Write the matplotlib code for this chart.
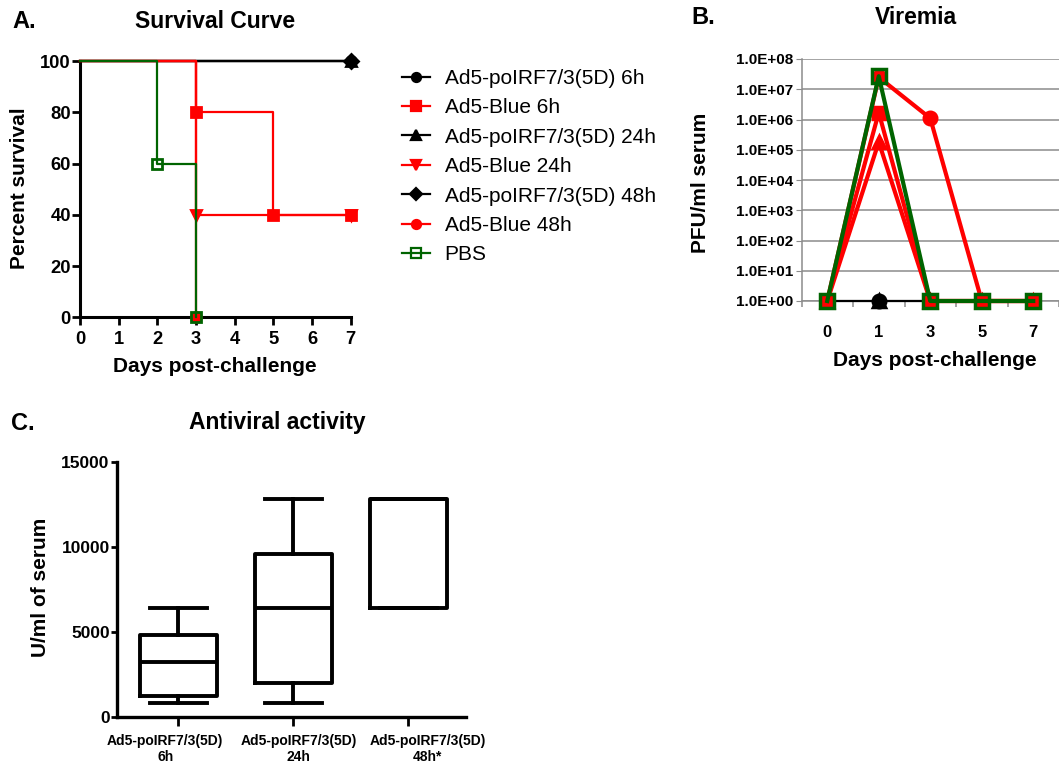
"""Three-panel figure: survival curve, viremia, antiviral activity box plot."""
import matplotlib
matplotlib.use("Agg")
import matplotlib.pyplot as plt
import matplotlib.transforms as mtransforms
from matplotlib.lines import Line2D

plt.rcParams["font.family"] = ["Liberation Sans", "DejaVu Sans"]
plt.rcParams["font.weight"] = "bold"

# ---- data -----------------------------------------------------------------
series = ["Ad5-poIRF7/3(5D) 6h", "Ad5-Blue 6h", "Ad5-poIRF7/3(5D) 24h",
          "Ad5-Blue 24h", "Ad5-poIRF7/3(5D) 48h", "Ad5-Blue 48h", "PBS"]

# survival steps (day of event, percent surviving after it)
surv_days = [[0, 7], [0, 3, 5, 7], [0, 7], [0, 3, 7], [0, 7], [0, 3], [0, 2, 3]]
surv_pct = [[100, 100], [100, 80, 40, 40], [100, 100], [100, 40, 40],
            [100, 100], [100, 0], [100, 60, 0]]

vir_days = ["0", "1", "3", "5", "7"]
nan = float("nan")
viremia = [
    [1, 1, 1, nan, nan],
    [1, 1.7e6, 1, 1, 1],
    [1, 1, 1, nan, nan],
    [1, 1.8e5, 1, 1, 1],
    [1, 1, 1, nan, nan],
    [1, 2.5e7, 1.1e6, 1, 1],
    [1, 2.7e7, 1, 1, 1],
]
vir_ticks = [1, 1e1, 1e2, 1e3, 1e4, 1e5, 1e6, 1e7, 1e8]

groups = ["Ad5-poIRF7/3(5D)\n6h", "Ad5-poIRF7/3(5D)\n24h", "Ad5-poIRF7/3(5D)\n48h*"]
whis_lo = [800, 800, 6400]
q1 = [1200, 2000, 6400]
median = [3200, 6400, 12800]
q3 = [4800, 9600, 12800]
whis_hi = [6400, 12800, 12800]

# ---- styles ---------------------------------------------------------------
RED, GREEN, BLACK = "#ff0000", "#006400", "#000000"
colors = [BLACK, RED, BLACK, RED, BLACK, RED, GREEN]
markers_a = ["o", "s", "^", "v", "D", "o", "s"]
markers_b = ["o", "s", "^", "^", "D", "o", "s"]
ms_b = [9, 9, 8, 9, 5, 9, 10]
zord = [2.3, 3, 2.2, 3, 2.1, 3, 4]

W, H = 1059, 769
fig = plt.figure(figsize=(W / 100, H / 100), dpi=100)


def rect(l, t, r, b):
    return [l / W, 1 - b / H, (r - l) / W, (b - t) / H]


def ftext(x, y, s, **kw):
    kw.setdefault("ha", "center")
    kw.setdefault("va", "center")
    fig.text(x / W, 1 - y / H, s, fontweight="bold", **kw)


# ---- A. survival -----------------------------------------------------------
axA = fig.add_axes(rect(80, 61, 350.7, 317.3))
handles = []
for i, name in enumerate(series):
    fc = "none" if colors[i] == GREEN else colors[i]
    ms = 7.5 if colors[i] == GREEN else 7
    axA.plot(surv_days[i], surv_pct[i], drawstyle="steps-post", color=colors[i],
             lw=1.6, zorder=zord[i], clip_on=False)
    axA.plot(surv_days[i][1:], surv_pct[i][1:], ls="none", marker=markers_a[i],
             ms=ms, mfc=fc, mec=colors[i], mew=2, zorder=zord[i] + 0.5, clip_on=False)
    handles.append(Line2D([], [], color=colors[i], lw=1.6, marker=markers_a[i],
                          ms=6.5, mfc=fc, mec=colors[i], mew=1.6))
axA.set_xlim(0, 7)
axA.set_ylim(0, 100)
axA.set_xticks(range(8))
axA.set_yticks(range(0, 101, 20))
for s in ["top", "right"]:
    axA.spines[s].set_visible(False)
for s in ["left", "bottom"]:
    axA.spines[s].set_linewidth(2.2)
axA.tick_params(width=2, length=5.5, labelsize=13.2, pad=4.5)
axA.tick_params(axis="y", pad=1)

ftext(215, 21, "Survival Curve", fontsize=16.5)
ftext(12, 21, "A.", fontsize=17, ha="left")
ftext(215, 367, "Days post-challenge", fontsize=15)
ftext(20, 188, "Percent survival", fontsize=15, rotation=90)

fig.legend(handles, series, loc="center left",
           bbox_to_anchor=(402 / W, 1 - 166.7 / H), frameon=False,
           prop={"family": ["Liberation Sans"], "weight": "normal", "size": 15},
           borderpad=0, borderaxespad=0, labelspacing=0.5,
           handlelength=1.35, handletextpad=0.7)

# ---- B. viremia ------------------------------------------------------------
axB = fig.add_axes(rect(801.5, 59, W, 301))
xpos = list(range(len(vir_days)))
for i, name in enumerate(series):
    lw = 1.5 if colors[i] == BLACK else 3
    fc = "none" if colors[i] == GREEN else colors[i]
    axB.plot(xpos, viremia[i], color=colors[i], lw=lw, marker=markers_b[i],
             ms=ms_b[i], mfc=fc, mec=colors[i], mew=2.5, zorder=zord[i] + 2,
             clip_on=False)
axB.set_yscale("log")
axB.set_ylim(1, 1e8)
axB.set_xlim(-0.5, -0.5 + (W - 801.5) / 52.9)
axB.set_yticks(vir_ticks)
axB.set_yticklabels([f"{v:.1E}" for v in vir_ticks])
axB.minorticks_off()
axB.set_xticks(xpos)
axB.set_xticklabels(vir_days)
axB.set_xticks([p - 0.5 for p in xpos] + [len(xpos) - 0.5], minor=True)
axB.grid(axis="y", color="#8c8c8c", lw=1.1)
axB.set_axisbelow(True)
for s in ["top", "right"]:
    axB.spines[s].set_visible(False)
for s in ["left", "bottom"]:
    axB.spines[s].set_color("#8c8c8c")
    axB.spines[s].set_linewidth(1.1)
axB.tick_params(axis="y", which="major", length=4, color="#8c8c8c", labelsize=11, pad=2)
axB.tick_params(axis="x", which="major", length=0, labelsize=12, pad=17)
axB.tick_params(axis="x", which="minor", length=4, color="#8c8c8c", width=1.1)

ftext(916, 18, "Viremia", fontsize=16.5)
ftext(691, 18, "B.", fontsize=17, ha="left")
ftext(935, 360, "Days post-challenge", fontsize=15)
ftext(700, 183, "PFU/ml serum", fontsize=15, rotation=90)

# ---- C. antiviral activity -------------------------------------------------
axC = fig.add_axes(rect(117.3, 461.7, 466, 716.7))
stats = [dict(whislo=whis_lo[i], q1=q1[i], med=median[i], q3=q3[i],
              whishi=whis_hi[i], label=groups[i]) for i in range(len(groups))]
lprops = dict(color="black", lw=2.8)
axC.bxp(stats, positions=range(len(groups)), widths=0.67, capwidths=0.5,
        showfliers=False, boxprops=lprops, whiskerprops=lprops,
        capprops=lprops, medianprops=lprops)
axC.set_xlim(-0.53, 2.5)
axC.set_ylim(0, 15000)
axC.set_yticks([0, 5000, 10000, 15000])
for s in ["top", "right"]:
    axC.spines[s].set_visible(False)
for s in ["left", "bottom"]:
    axC.spines[s].set_linewidth(2.4)
axC.tick_params(axis="y", width=2, length=4.5, labelsize=12.5, pad=1)
axC.tick_params(axis="x", width=2, length=6.5, labelsize=10, pad=6)
# spread the long category labels apart so they don't collide
for lab, dx in zip(axC.get_xticklabels(), [-13, 5, 19]):
    lab.set_transform(lab.get_transform()
                      + mtransforms.ScaledTranslation(dx / 100, 0, fig.dpi_scale_trans))

ftext(277, 422, "Antiviral activity", fontsize=16.5)
ftext(11, 423, "C.", fontsize=17, ha="left")
ftext(40, 587, "U/ml of serum", fontsize=15, rotation=90)

fig.savefig("out.png", dpi=100)
